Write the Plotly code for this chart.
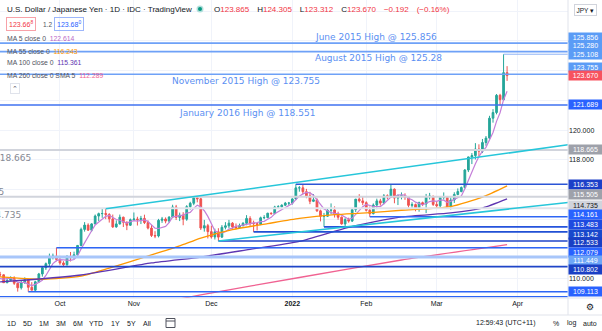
import plotly.graph_objects as go
import pandas as pd

# ---------------- data ----------------
dates = [d.strftime("%Y-%m-%d") for d in pd.bdate_range("2021-09-01", "2022-03-29")]

opens = [110.02,110.01,109.93,109.71,109.84,110.27,110.25,109.72,109.88,110.02,109.68,109.38,109.71,109.92,109.41,109.22,109.78,110.31,110.73,111.00,111.49,111.51,
         111.29,111.05,110.93,111.43,111.41,111.60,112.23,113.31,113.60,113.26,113.68,114.21,114.37,114.38,114.32,114.02,113.48,113.68,114.13,113.79,113.59,
         113.96,114.01,113.97,114.05,113.77,113.40,112.90,112.87,113.92,114.01,113.87,114.14,114.82,114.12,114.27,114.00,114.84,115.07,115.44,115.37,113.40,113.56,
         113.16,112.80,113.15,112.79,113.45,113.55,113.73,113.48,113.43,113.56,113.72,114.05,113.72,113.70,113.64,114.09,114.11,114.40,114.37,114.82,114.83,114.94,115.08,
         115.08,115.36,116.11,116.11,115.85,115.57,115.20,115.30,114.56,114.19,114.20,114.60,114.62,114.33,114.13,113.68,113.97,113.87,114.64,115.35,115.23,
         115.11,114.60,114.37,114.95,115.23,115.08,115.57,115.54,116.02,115.42,115.58,115.59,115.48,114.93,114.98,114.74,115.11,115.02,115.51,115.55,
         114.99,114.90,115.47,115.48,114.84,115.29,115.66,115.86,116.13,117.31,118.19,118.28,118.72,118.58,119.16,119.46,120.80,121.18,122.34,122.05,123.865]
highs = [110.43,110.12,110.17,109.92,110.36,110.45,110.28,110.07,110.15,110.15,109.72,109.86,110.08,109.95,109.76,109.85,110.38,110.80,111.08,111.68,111.68,112.08,
         111.53,111.17,111.58,111.79,111.81,112.25,113.43,113.80,113.72,113.73,114.31,114.44,114.68,114.70,114.40,114.31,113.92,114.31,114.17,113.85,114.04,
         114.45,114.16,114.22,114.30,113.92,113.61,113.19,114.02,114.15,114.12,114.20,114.97,114.96,114.44,114.47,114.94,115.17,115.52,115.51,115.45,113.95,113.68,
         113.56,113.36,113.39,113.60,113.80,113.95,113.80,113.71,113.70,113.80,114.27,114.20,113.90,113.73,114.17,114.27,114.43,114.46,114.90,114.94,115.00,115.16,115.16,
         115.41,116.35,116.23,116.30,116.04,115.84,115.69,115.40,114.64,114.42,114.68,115.06,114.86,114.50,114.18,114.07,114.10,114.72,115.34,115.68,115.49,
         115.20,114.85,115.06,115.38,115.37,115.69,115.67,116.34,116.07,115.66,115.80,115.74,115.49,115.14,115.05,115.18,115.18,115.70,115.77,115.56,
         115.22,115.52,115.80,115.56,115.47,115.81,116.07,116.20,117.37,118.21,118.45,119.12,119.04,119.40,119.60,120.96,121.41,122.43,122.44,125.108,124.305]
lows = [109.91,109.89,109.59,109.66,109.75,110.10,109.73,109.69,109.84,109.57,109.12,109.26,109.66,109.11,109.29,109.13,109.70,110.13,110.58,110.82,111.29,111.16,
        110.93,110.82,110.87,111.15,111.32,111.55,112.17,113.16,113.21,113.15,113.65,113.87,114.09,114.00,113.77,113.41,113.42,113.64,113.47,113.26,113.54,
        113.89,113.57,113.67,113.67,113.31,112.80,112.72,112.77,113.75,113.72,113.75,114.07,113.94,113.87,113.59,113.89,114.64,114.94,115.13,113.27,113.16,112.70,
        112.69,112.63,112.53,112.73,113.31,113.39,113.35,113.32,113.37,113.52,113.59,113.55,113.14,113.24,113.60,114.00,114.06,114.30,114.34,114.68,114.78,114.88,114.95,
        114.98,115.28,115.85,115.67,115.41,115.01,115.15,114.49,113.85,113.48,114.15,114.33,114.11,113.96,113.63,113.47,113.76,113.81,114.48,115.12,114.94,
        114.52,114.16,114.32,114.67,114.91,115.00,115.33,115.43,115.07,114.95,115.33,115.30,114.78,114.73,114.53,114.50,114.88,114.41,115.33,114.89,
        114.68,114.71,115.32,114.83,114.65,115.09,115.61,115.81,116.06,117.17,117.71,118.02,118.24,118.45,118.94,119.39,120.50,121.06,121.66,121.97,123.312]
closes = [110.01,109.93,109.71,109.84,110.27,110.25,109.72,109.88,110.02,109.68,109.38,109.71,109.92,109.41,109.22,109.78,110.31,110.73,111.00,111.49,111.51,111.29,
          111.05,110.93,111.43,111.41,111.60,112.23,113.31,113.60,113.26,113.68,114.21,114.37,114.38,114.32,114.02,113.48,113.68,114.13,113.79,113.59,113.96,
          114.01,113.97,114.05,113.77,113.40,112.90,112.87,113.92,114.01,113.87,114.14,114.82,114.12,114.27,114.00,114.84,115.07,115.44,115.37,113.40,113.56,113.16,
          112.80,113.15,112.79,113.45,113.55,113.73,113.48,113.43,113.56,113.72,114.05,113.72,113.70,113.64,114.09,114.11,114.40,114.37,114.82,114.83,114.94,115.08,115.08,
          115.36,116.11,116.11,115.85,115.57,115.20,115.30,114.56,114.19,114.20,114.60,114.62,114.33,114.13,113.68,113.97,113.87,114.64,115.35,115.23,115.11,
          114.60,114.37,114.95,115.23,115.08,115.57,115.54,116.02,115.42,115.58,115.59,115.48,114.93,114.98,114.74,115.11,115.02,115.51,115.55,114.99,
          114.90,115.47,115.48,114.84,115.29,115.66,115.86,116.13,117.31,118.19,118.28,118.72,118.58,119.16,119.46,120.80,121.18,122.34,122.05,123.865,123.670]

# longer moving averages at a few dates
ma55_dates = ["2021-09-08","2021-09-24","2021-10-11","2021-10-21","2021-11-08","2021-11-18","2021-11-26","2021-12-09",
              "2021-12-23","2022-01-05","2022-01-19","2022-02-01","2022-02-15","2022-03-07","2022-03-18","2022-03-29"]
ma55_vals = [110.11,109.95,110.17,110.71,111.59,112.20,112.73,113.30,113.70,114.05,114.30,114.42,114.60,114.85,115.49,116.243]
ma100_dates = ["2021-09-08","2021-10-11","2021-11-08","2021-11-26","2021-12-15","2022-01-05","2022-01-25","2022-02-15","2022-03-07","2022-03-18","2022-03-29"]
ma100_vals = [109.77,110.24,111.05,111.45,111.93,112.50,113.45,114.15,114.42,114.75,115.361]
ma260_dates = ["2021-11-10","2021-11-26","2022-01-05","2022-02-15","2022-03-29"]
ma260_vals = [108.35,108.90,110.07,111.25,112.289]

# horizontal levels (price, first date of the ray; None = whole width)
level_prices = [125.856,125.280,125.108,123.755,121.689,118.665,116.353,115.505,114.735,114.161,113.483,113.142,112.533,112.079,111.449,110.802,109.113]
level_starts = [None,None,"2022-03-28",None,None,None,"2022-01-04",None,None,"2022-02-02","2022-01-14","2021-12-17","2021-12-03","2021-09-30",None,None,"2021-09-20"]
extra_level = 108.78   # unlabelled line at the bottom edge

# trend lines (two anchor points each)
trend_up = (["2021-10-20","2021-11-24"], [114.70,115.52])
trend_low = (["2021-12-03","2022-01-24"], [112.53,113.47])

last_price = 123.670
month_ticks = ["Oct","Nov","Dec","2022","Feb","Mar","Apr"]
price_ticks = [110, 118, 120]

# ---------------- styles / layout ----------------
W, H = 602, 331
PW, PH = 568, 298
XMIN, XMAX = 4.97, 166.3
YMIN, YMAX = 108.69, 128.76

def px(x):
    return x / PW

def py(y):
    return (PH - y) / PH

idx = list(range(len(dates)))
pos = {d: i for i, d in enumerate(dates)}

axis_days = [d for d in pd.bdate_range("2021-09-01", "2022-04-29")]
tickvals, seen = [], set()
for i, d in enumerate(axis_days):
    key = (d.year, d.month)
    if key not in seen:
        seen.add(key)
        if i > 0:
            tickvals.append(i)
ticktext = [("<b>%s</b>" % t if t == "2022" else t) for t in month_ticks]
tickvals = tickvals[:len(ticktext)]

ma5 = pd.Series(closes).rolling(5).mean()

fig = go.Figure()

fig.add_trace(go.Candlestick(
    x=idx, open=opens, high=highs, low=lows, close=closes,
    increasing=dict(line=dict(color="#26a69a", width=1), fillcolor="#26a69a"),
    decreasing=dict(line=dict(color="#ef5350", width=1), fillcolor="#ef5350"),
    whiskerwidth=0, showlegend=False, hoverinfo="skip"))

fig.add_trace(go.Scatter(x=idx, y=ma5, mode="lines", line=dict(color="#c47fd9", width=1.2),
                         showlegend=False, hoverinfo="skip"))
for dl, vl, col in [(ma55_dates, ma55_vals, "#ff9800"), (ma100_dates, ma100_vals, "#5e35b1"),
                    (ma260_dates, ma260_vals, "#f06292")]:
    fig.add_trace(go.Scatter(x=[pos[d] for d in dl], y=vl, mode="lines",
                             line=dict(color=col, width=1.3, shape="spline", smoothing=0.6),
                             showlegend=False, hoverinfo="skip"))

# level styles
level_line_colors = ["#6ea1f7","#6ea1f7","#8fb3f5","#6ea1f7","#3f72f0","#d1d4dc","#2b55d6","#d1d4dc","#e0e3eb",
                     "#2e66f5","#2553dc","#2150d4","#1f45c8","#2e66f5","#a8c6fa","#1f45c8","#2e66f5"]
level_line_widths = [1.6,1.6,1.0,1.6,1.6,2.0,1.6,2.0,2.0,1.6,1.6,1.6,1.6,1.6,3.0,1.6,1.6]
label_bg = ["#5b9cf6","#5b9cf6","#5b9cf6","#5b9cf6","#2962ff","#9ea1aa","#1c3fc8","#9ea1aa","#d1d4dc",
            "#2962ff","#1e4ae0","#1848cc","#1a3fc4","#2962ff","#6ea6f7","#1a3fc4","#2962ff"]
label_fg = ["white"] * len(level_prices)
label_fg[8] = "#131722"
label_nudge = [-5.8,-6.4,-0.2,-6.6,0,0,0,-2.5,-2.6,-2.1,-1.9,2.1,1.7,4.5,3.5,2.5,0]

shapes = []
for p, s, c, w in zip(level_prices, level_starts, level_line_colors, level_line_widths):
    if s is None:
        shapes.append(dict(type="line", xref="paper", yref="y", x0=0, x1=1, y0=p, y1=p,
                           line=dict(color=c, width=w), layer="above"))
    else:
        shapes.append(dict(type="line", xref="x", yref="y", x0=pos[s], x1=XMAX, y0=p, y1=p,
                           line=dict(color=c, width=w), layer="above"))
shapes.append(dict(type="line", xref="paper", yref="y", x0=0, x1=1, y0=extra_level, y1=extra_level,
                   line=dict(color="#2e66f5", width=1.4), layer="above"))

for (dl, vl) in [trend_up, trend_low]:
    x0, x1 = pos[dl[0]], pos[dl[1]]
    slope = (vl[1] - vl[0]) / (x1 - x0)
    shapes.append(dict(type="line", xref="x", yref="y", x0=x0, y0=vl[0], x1=XMAX,
                       y1=vl[0] + slope * (XMAX - x0), line=dict(color="#26c6da", width=1.5), layer="above"))

# frame separators
shapes += [
    dict(type="line", xref="paper", yref="paper", x0=0, x1=px(W), y0=0, y1=0, line=dict(color="#e0e3eb", width=1)),
    dict(type="line", xref="paper", yref="paper", x0=0, x1=px(W), y0=py(315), y1=py(315), line=dict(color="#e0e3eb", width=1)),
    dict(type="line", xref="paper", yref="paper", x0=1, x1=1, y0=py(0), y1=py(315), line=dict(color="#e0e3eb", width=1)),
    dict(type="circle", xref="paper", yref="paper", x0=px(196.5), x1=px(203.5), y0=py(5.5), y1=py(12.5),
         fillcolor="#b2dfdb", line=dict(width=0)),
    dict(type="circle", xref="paper", yref="paper", x0=px(198), x1=px(202), y0=py(7), y1=py(11),
         fillcolor="#089981", line=dict(width=0)),
    # calendar icon in the toolbar
    dict(type="rect", xref="paper", yref="paper", x0=px(166), x1=px(175), y0=py(327.5), y1=py(318.5),
         line=dict(color="#50535e", width=1)),
    dict(type="line", xref="paper", yref="paper", x0=px(166), x1=px(175), y0=py(321), y1=py(321),
         line=dict(color="#50535e", width=1)),
]

ann = []
FONT = "Liberation Sans"
DRAW = "DejaVu Sans"

def text(t, x, y, size=7, color="#131722", xanchor="left", family=FONT, **kw):
    ann.append(dict(text=t, x=px(x), y=py(y), xref="paper", yref="paper", xanchor=xanchor,
                    yanchor="middle", showarrow=False, font=dict(size=size, color=color, family=family), **kw))

# right axis price labels
lp = level_prices[:4] + [last_price] + level_prices[4:]
lbg = label_bg[:4] + ["#f7525f"] + label_bg[4:]
lfg = label_fg[:4] + ["white"] + label_fg[4:]
lnd = label_nudge[:4] + [0] + label_nudge[4:]
for p, bg, fg, n in zip(lp, lbg, lfg, lnd):
    ann.append(dict(text="%.3f" % p, x=1, xref="paper", y=p, yref="y", xanchor="left", yanchor="middle",
                    yshift=-n, showarrow=False, bgcolor=bg, width=32, height=8, borderpad=0.5,
                    font=dict(size=7, color=fg, family=FONT)))

# drawing texts
text("June 2015 High @ 125.856", 313, 37, size=9, color="#5b8ff2", family=DRAW)
text("August 2015 High @ 125.28", 313, 58, size=9, color="#5b8ff2", family=DRAW)
text("November 2015 High @ 123.755", 170, 81, size=9, color="#5b8ff2", family=DRAW)
text("January 2016 High @ 118.551", 177, 113, size=9, color="#5b8ff2", family=DRAW)
text("118.665", 33, 158, size=9, color="#868993", xanchor="right", family=DRAW)
text("115.505", 6, 192, size=9, color="#868993", xanchor="right", family=DRAW)
text("114.735", 23, 215, size=9, color="#868993", xanchor="right", family=DRAW)

# header
text("U.S. Dollar / Japanese Yen · 1D · IDC · TradingView", 5, 9.5, size=8)
R = "#f23645"
G = "\u2002\u2002"
text(("O<span style='color:%s'>123.865</span>" + G + "H<span style='color:%s'>124.305</span>" + G +
      "L<span style='color:%s'>123.312</span>" + G + "C<span style='color:%s'>123.670" + G + "−0.192" + G +
      "(−0.16%%)</span>") % (R, R, R, R), 212, 9.5, size=8)
text("123.66<sup>8</sup>", 6, 24, size=7, color=R, bordercolor="#f7a1a8", borderwidth=1, borderpad=2)
text("1.2", 41, 24, size=6.5, color="#50535e")
text("123.68<sup>0</sup>", 54, 24, size=7, color="#2962ff", bordercolor="#9db6fb", borderwidth=1, borderpad=2)
legend_rows = [("MA 5 close 0", "122.614", "#ba68c8", 38), ("MA 55 close 0", "116.243", "#ff9800", 51),
               ("MA 100 close 0", "115.361", "#5e35b1", 63), ("MA 260 close 0 SMA 5", "112.289", "#f06292", 75)]
for name, val, col, yy in legend_rows:
    text("%s  <span style='color:%s'>%s</span>" % (name, col, val), 5, yy, size=6.8, color="#50535e")
text("⌃", 15, 89, size=7, color="#50535e", xanchor="center", bordercolor="#e0e3eb", borderwidth=1, borderpad=1,
     bgcolor="white")
text("JPY ▾", 585, 9.5, size=6.5, xanchor="center", bordercolor="#d1d4dc", borderwidth=1, borderpad=1.5,
     bgcolor="white")

# bottom toolbar
for lab, xx in zip(["1D","5D","1M","3M","6M","YTD","1Y","5Y","All"], [11,27,44,61,78,96,115,131,147]):
    text(lab, xx, 323, size=7, xanchor="center")
text("12:59:43 (UTC+11)", 506, 323, size=7, xanchor="center")
text("%", 556, 323, size=7, xanchor="center")
text("log", 571, 323, size=7, xanchor="center")
text("auto", 590, 323, size=7, xanchor="center")
text("⚙", 590, 307, size=9, xanchor="center", family=DRAW)

fig.update_layout(
    width=W, height=H, margin=dict(l=0, r=W - PW, t=0, b=H - PH),
    paper_bgcolor="white", plot_bgcolor="white",
    font=dict(family=FONT, size=7, color="#131722"),
    shapes=shapes, annotations=ann, showlegend=False,
    xaxis=dict(range=[XMIN, XMAX], tickvals=tickvals, ticktext=ticktext, showgrid=True, gridcolor="#f0f3fa",
               gridwidth=1, zeroline=False, showline=False, ticks="", rangeslider=dict(visible=False),
               tickfont=dict(size=7, color="#131722"), fixedrange=True),
    yaxis=dict(range=[YMIN, YMAX], side="right", tickmode="array", tickvals=price_ticks,
               ticktext=["%.3f" % v for v in price_ticks], showgrid=False,
               zeroline=False, showline=False, ticks="",
               minor=dict(tickmode="linear", tick0=0, dtick=2, showgrid=True, gridcolor="#f0f3fa", ticks=""),
               tickfont=dict(size=7, color="#131722"), fixedrange=True),
)

fig.write_html("out.html")
